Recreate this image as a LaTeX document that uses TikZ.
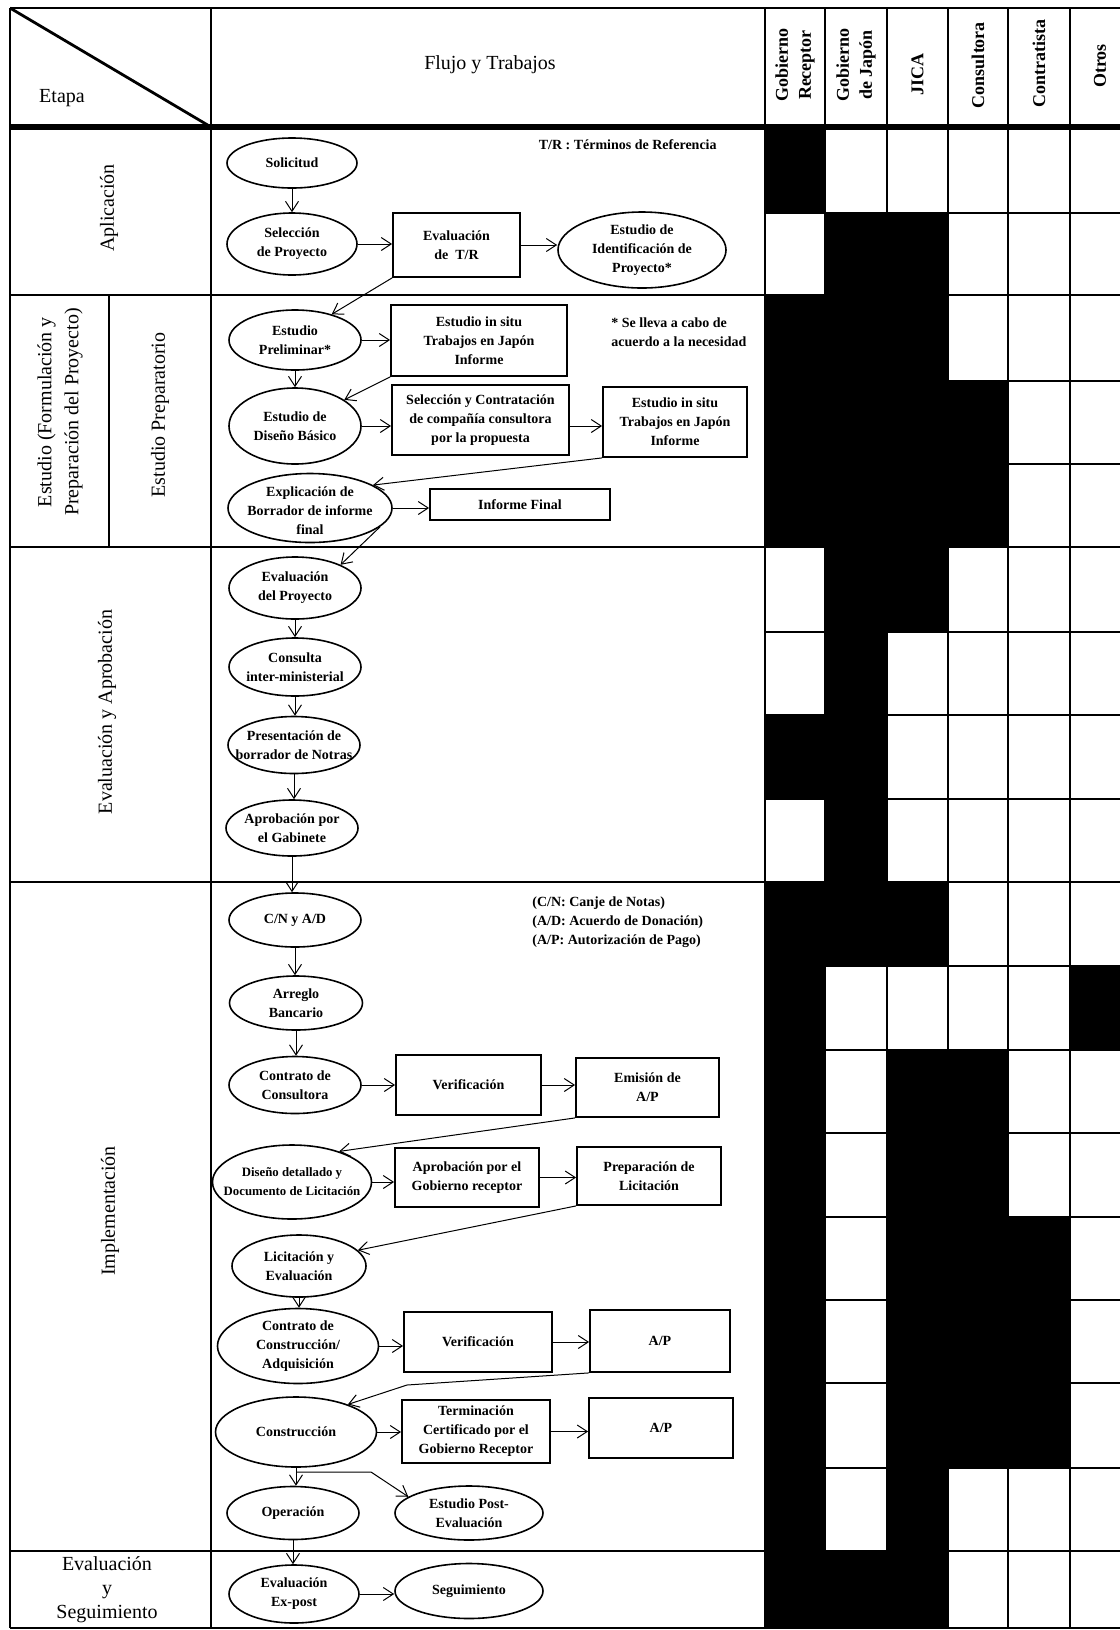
\documentclass[tikz,border=0pt]{standalone}
\usepackage{fontspec}
\setmainfont{Liberation Serif}
\usetikzlibrary{shapes.geometric,arrows.meta,calc}

\newcommand\fs{\fontsize{7}{9.5}\selectfont\bfseries}
\newcommand\fsm{\fontsize{6.4}{9.5}\selectfont\bfseries}
\newcommand\stf{\fontsize{10}{12.5}\selectfont}
\newcommand\rlf{\fontsize{9}{11.5}\selectfont\bfseries}

\begin{document}
\begin{tikzpicture}[x=0.5pt,y=-0.5pt,
  ell/.style={ellipse, draw, line width=0.8pt, inner sep=0pt},
  lbl/.style={font=\fs, align=center, inner sep=0pt},
  box/.style={rectangle, draw, line width=0.9pt, inner sep=0pt, font=\fs, align=center},
  arr/.style={-{Straight Barb[length=5pt,width=6.5pt]}, line width=0.5pt},
  gridl/.style={line width=1.4pt},
  stage/.style={font=\stf, align=center, inner sep=0pt},
  role/.style={font=\rlf, align=center, inner sep=0pt, rotate=90},
  note/.style={font=\fs, align=left, inner sep=0pt},
]
\useasboundingbox (0,0) rectangle (1120,1630);
\clip (0,0) rectangle (1120,1630);

% ---------- black cells ----------
\fill (765,127) rectangle (825,213);
\fill (765,295) rectangle (825,547);
\fill (765,715) rectangle (825,799);
\fill (765,882) rectangle (825,1628);
\fill (825,213) rectangle (887,966);
\fill (825,1551) rectangle (887,1628);
\fill (887,213) rectangle (948,632);
\fill (887,882) rectangle (948,966);
\fill (887,1050) rectangle (948,1628);
\fill (948,381) rectangle (1008,547);
\fill (948,1050) rectangle (1008,1468);
\fill (1008,1217) rectangle (1070,1468);
\fill (1070,966) rectangle (1130,1050);

% ---------- grid ----------
\foreach \yy in {8,295,547,882,1551,1628} \draw[gridl] (10,\yy) -- (1130,\yy);
\draw[line width=2.6pt] (10,127) -- (1130,127);
\foreach \yy in {213,381,464,632,715,799,966,1050,1133,1217,1300,1383,1468}
  \draw[gridl] (765,\yy) -- (1130,\yy);
\foreach \xx in {10,211,765,825,887,948,1008,1070} \draw[gridl] (\xx,8) -- (\xx,1628);
\draw[gridl] (109,295) -- (109,547);
\draw[gridl] (10,8) -- (211,127);

% ---------- headers ----------
\node[stage] (h-etapa) at (62,98) {Etapa};
\node[stage] (h-flujo) at (490,65) {Flujo y Trabajos};
\node[role] (h-gr) at (795,65) {Gobierno\\Receptor};
\node[role] (h-gj) at (856,65) {Gobierno\\de Japón};
\node[role] (h-jica) at (917.5,74) {JICA};
\node[role] (h-cons) at (978,65) {Consultora};
\node[role] (h-contr) at (1039,63) {Contratista};
\node[role] (h-otros) at (1100,66) {Otros};

% ---------- stage labels ----------
\node[stage, rotate=90] (s-apl) at (109,208) {Aplicación};
\node[stage, rotate=90, font=\fontsize{10}{13.5}\selectfont] (s-est) at (60,412) {Estudio (Formulación y\\Preparación del Proyecto)};
\node[stage, rotate=90] (s-prep) at (160,415) {Estudio Preparatorio};
\node[stage, rotate=90] (s-eva) at (107,712) {Evaluación y Aprobación};
\node[stage, rotate=90] (s-imp) at (110,1211) {Implementación};
\node[stage, font=\fontsize{10}{12}\selectfont] (s-eys) at (107,1590) {Evaluación\\y\\Seguimiento};

% ---------- notes ----------
\node[note, anchor=east] (n-tr) at (717,145) {T/R : Términos de Referencia};
\node[note, anchor=west] (n-ast) at (611,332) {* Se lleva a cabo de\\acuerdo a la necesidad};
\node[note, anchor=west] (n-abr) at (532,922) {(C/N: Canje de Notas)\\(A/D: Acuerdo de Donación)\\(A/P: Autorización de Pago)};

% ---------- Aplicación ----------
\node[ell, minimum width=65pt, minimum height=25pt] (sol) at (292,163) {};
\node[lbl] (sol-t) at (sol) {Solicitud};
\node[ell, minimum width=65pt, minimum height=31pt] (sel) at (292,244) {};
\node[lbl] (sel-t) at (sel) {Selección\\de Proyecto};
\node[box, minimum width=63.5pt, minimum height=32pt] (evtr) at (456.5,245) {Evaluación\\de \ T/R};
\node[ell, minimum width=84pt, minimum height=38pt] (eid) at (642,250) {};
\node[lbl] (eid-t) at (eid) {Estudio de\\Identificación de\\Proyecto*};

% ---------- Estudio ----------
\node[ell, minimum width=66pt, minimum height=30pt] (pre) at (295,340) {};
\node[lbl] (pre-t) at (pre) {Estudio\\Preliminar*};
\node[box, minimum width=88pt, minimum height=35.5pt] (situ1) at (479,340.5) {Estudio in situ\\Trabajos en Japón\\Informe};
\node[ell, minimum width=66pt, minimum height=38pt] (dis) at (295,426) {};
\node[lbl] (dis-t) at (dis) {Estudio de\\Diseño Básico};
\node[box, minimum width=88.5pt, minimum height=35pt] (selc) at (480.5,420) {Selección y Contratación\\de compañía consultora\\por la propuesta};
\node[box, minimum width=72pt, minimum height=35pt] (situ2) at (675,422) {Estudio in situ\\Trabajos en Japón\\Informe};
\node[ell, minimum width=82pt, minimum height=34.5pt] (exp) at (310,508) {};
\node[lbl] (exp-t) at ($(exp)+(0,3)$) {Explicación de\\Borrador de informe\\final};
\node[box, minimum width=90pt, minimum height=15.5pt] (inf) at (520,504.5) {Informe Final};

% ---------- Evaluación y Aprobación ----------
\node[ell, minimum width=66pt, minimum height=31pt] (evp) at (295,588) {};
\node[lbl] (evp-t) at (evp) {Evaluación\\del Proyecto};
\node[ell, minimum width=66pt, minimum height=29pt] (con) at (295,667) {};
\node[lbl] (con-t) at (con) {Consulta\\inter-ministerial};
\node[ell, minimum width=66pt, minimum height=28.5pt] (prs) at (294,745) {};
\node[lbl] (prs-t) at (prs) {Presentación de\\borrador de Notras};
\node[ell, minimum width=66pt, minimum height=28pt] (apr) at (292,828) {};
\node[lbl] (apr-t) at (apr) {Aprobación por\\el Gabinete};

% ---------- Implementación ----------
\node[ell, minimum width=66pt, minimum height=27pt] (cn) at (295,920) {};
\node[lbl] (cn-t) at (cn) {C/N y A/D};
\node[ell, minimum width=66.5pt, minimum height=27pt] (arre) at (296,1003) {};
\node[lbl] (arre-t) at (arre) {Arreglo\\Bancario};
\node[ell, minimum width=66pt, minimum height=28.5pt] (cc) at (295,1085) {};
\node[lbl] (cc-t) at (cc) {Contrato de\\Consultora};
\node[box, minimum width=72.5pt, minimum height=30pt] (ver1) at (468.5,1085) {Verificación};
\node[box, minimum width=71.5pt, minimum height=29.5pt] (emi) at (647.5,1087.5) {Emisión de\\A/P};
\node[ell, minimum width=79.5pt, minimum height=37pt] (dd) at (292,1182) {};
\node[lbl, font=\fsm] (dd-t) at (dd) {Diseño detallado y\\Documento de Licitación};
\node[box, minimum width=72pt, minimum height=29.5pt] (apg) at (467,1177.5) {Aprobación por el\\Gobierno receptor};
\node[box, minimum width=72pt, minimum height=29pt] (prl) at (649,1176) {Preparación de\\Licitación};
\node[ell, minimum width=67pt, minimum height=31pt] (lic) at (299,1266) {};
\node[lbl] (lic-t) at (lic) {Licitación y\\Evaluación};
\node[ell, minimum width=80.5pt, minimum height=37.5pt] (ccon) at (298,1346) {};
\node[lbl] (ccon-t) at (ccon) {Contrato de\\Construcción/\\Adquisición};
\node[box, minimum width=74pt, minimum height=30pt] (ver2) at (478,1342) {Verificación};
\node[box, minimum width=70pt, minimum height=31pt] (ap1) at (660,1341) {A/P};
\node[ell, minimum width=80.5pt, minimum height=35pt] (cons) at (296,1432) {};
\node[lbl] (cons-t) at (cons) {Construcción};
\node[box, minimum width=74pt, minimum height=31.5pt] (term) at (476,1431.5) {Terminación\\Certificado por el\\Gobierno Receptor};
\node[box, minimum width=72pt, minimum height=30pt] (ap2) at (661,1428) {A/P};
\node[ell, minimum width=66pt, minimum height=26.5pt] (op) at (293,1513) {};
\node[lbl] (op-t) at (op) {Operación};
\node[ell, minimum width=74pt, minimum height=27pt] (post) at (469,1513) {};
\node[lbl] (post-t) at (post) {Estudio Post-\\Evaluación};

% ---------- Evaluación y Seguimiento ----------
\node[ell, minimum width=65pt, minimum height=29pt] (exa) at (294,1594) {};
\node[lbl] (exa-t) at (exa) {Evaluación\\Ex-post};
\node[ell, minimum width=74pt, minimum height=27.5pt] (seg) at (469,1591) {};
\node[lbl] (seg-t) at (seg) {Seguimiento};

% ---------- connectors ----------
\draw[arr] (sol.south) -- (sol.south |- sel.north);
\draw[arr] (sel.east) -- (sel.east -| evtr.west);
\draw[arr] (evtr.east) -- (evtr.east -| eid.west);
\draw[arr] (evtr.south west) -- (pre.35);
\draw[arr] (pre.east) -- (pre.east -| situ1.west);
\draw[arr] (pre.south) -- (pre.south |- dis.north);
\draw[arr] (situ1.south west) -- (dis.28);
\draw[arr] (dis.east) -- (dis.east -| selc.west);
\draw[arr] ([yshift=-3pt]selc.east) -- ([yshift=-3pt]selc.east -| situ2.west);
\draw[arr] (situ2.south west) -- (exp.20);
\draw[arr] (exp.east) -- (exp.east -| inf.west);
\draw[arr] (exp.-15) -- (evp.27);
\draw[arr] (evp.south) -- (evp.south |- con.north);
\draw[arr] (con.south) -- (con.south |- prs.north);
\draw[arr] (prs.south) -- (prs.south |- apr.north);
\draw[arr] (apr.south) -- (apr.south |- cn.north);
\draw[arr] (cn.south) -- (cn.south |- arre.north);
\draw[arr] (arre.south) -- (arre.south |- cc.north);
\draw[arr] (cc.east) -- (cc.east -| ver1.west);
\draw[arr] (ver1.east) -- (ver1.east -| emi.west);
\draw[arr] (emi.south west) -- (dd.33);
\draw[arr] (dd.east) -- (dd.east -| apg.west);
\draw[arr] (apg.east) -- (apg.east -| prl.west);
\draw[arr] (prl.south west) -- (lic.15);
\draw[arr] (lic.south) -- (lic.south |- ccon.north);
\draw[arr] (ccon.east) -- (ccon.east -| ver2.west);
\draw[arr] (ver2.east) -- (ver2.east -| ap1.west);
\coordinate (bend) at (407,1385);
\draw[arr] (ap1.south west) -- (bend) -- (cons.28);
\draw[arr] (cons.south) -- (cons.south |- op.north);
\draw[arr] (cons.east) -- (cons.east -| term.west);
\draw[arr] (term.east) -- (term.east -| ap2.west);
\coordinate (brY) at (0,1472);
\coordinate (brA) at (cons.south |- brY);
\coordinate (brB) at (371,1472);
\draw[arr] (brA) -- (brB) -- (post.165);
\draw[arr] (op.south) -- (op.south |- exa.north);
\draw[arr] (exa.east) -- (exa.east -| seg.west);
\end{tikzpicture}
\end{document}
